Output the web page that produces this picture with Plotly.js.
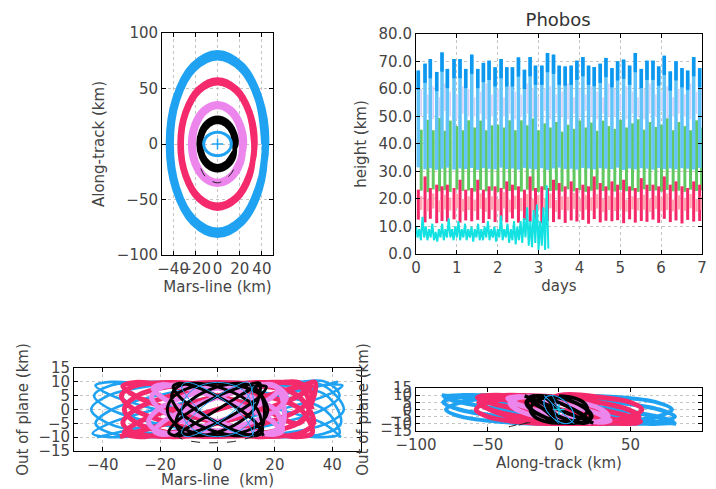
<!DOCTYPE html>
<html>
<head>
<meta charset="utf-8">
<script src="https://cdn.plot.ly/plotly-3.0.1.min.js"></script>
<style>html,body{margin:0;padding:0;background:#fff;}#chart{width:716px;height:489px;}</style>
</head>
<body>
<div id="chart"></div>
<script>
// ---------- Relative orbits around Phobos (km): Mars-line x, Along-track y, Out-of-plane z ----------
const blueX = [42,36.4,21,0,-21,-36.4,-42,-36.4,-21,0,21,36.4, 43.5,37.7,21.8,0,-21.8,-37.7,-43.5,-37.7,-21.8,0,21.8,37.7, 42.5,36.8,21.3,0,-21.3,-36.8,-42.5,-36.8,-21.3,0,21.3,36.8, 44,38.1,22,0,-22,-38.1,-44,-38.1,-22,0,22,38.1, 43,37.2,21.5,0,-21.5,-37.2,-43,-37.2,-21.5,0,21.5,37.2, 42.5,36.8,21.3,0,-21.3,-36.8,-42.5,-36.8,-21.3,0,21.3,36.8, 43];
const blueY = [0,39.5,68.4,79,68.4,39.5,0,-39.5,-68.4,-79,-68.4,-39.5, 0,40.5,70.1,81,70.1,40.5,0,-40.5,-70.1,-81,-70.1,-40.5, 0,39,67.5,78,67.5,39,0,-39,-67.5,-78,-67.5,-39, 0,41,71,82,71,41,0,-41,-71,-82,-71,-41, 0,40,69.3,80,69.3,40,0,-40,-69.3,-80,-69.3,-40, 0,40.3,69.7,80.5,69.7,40.3,0,-40.3,-69.7,-80.5,-69.7,-40.3, 0];
const blueZ = [10,8.7,5,0,-5,-8.7,-10,-8.7,-5,0,5,8.7, 8.7,5,0,-5,-8.7,-10,-8.7,-5,0,5,8.7,10, 5,0,-5,-8.7,-10,-8.7,-5,0,5,8.7,10,8.7, 0,-5,-8.7,-10,-8.7,-5,0,5,8.7,10,8.7,5, -5,-8.7,-10,-8.7,-5,0,5,8.7,10,8.7,5,0, -8.7,-10,-8.7,-5,0,5,8.7,10,8.7,5,0,-5, -10];

const pinkX = [32.5,28.1,16.3,0,-16.3,-28.1,-32.5,-28.1,-16.3,0,16.3,28.1, 33.5,29.0,16.8,0,-16.8,-29.0,-33.5,-29.0,-16.8,0,16.8,29.0, 33,28.6,16.5,0,-16.5,-28.6,-33,-28.6,-16.5,0,16.5,28.6, 34,29.4,17,0,-17,-29.4,-34,-29.4,-17,0,17,29.4, 32.5,28.1,16.3,0,-16.3,-28.1,-32.5,-28.1,-16.3,0,16.3,28.1, 33,28.6,16.5,0,-16.5,-28.6,-33,-28.6,-16.5,0,16.5,28.6, 33];
const pinkY = [0,27.5,47.6,55,47.6,27.5,0,-27.5,-47.6,-55,-47.6,-27.5, 0,28.5,49.4,57,49.4,28.5,0,-28.5,-49.4,-57,-49.4,-28.5, 0,28,48.5,56,48.5,28,0,-28,-48.5,-56,-48.5,-28, 0,29,50.2,58,50.2,29,0,-29,-50.2,-58,-50.2,-29, 0,27.8,48.1,55.5,48.1,27.8,0,-27.8,-48.1,-55.5,-48.1,-27.8, 0,28.3,48.9,56.5,48.9,28.3,0,-28.3,-48.9,-56.5,-48.9,-28.3, 0];
const pinkZ = [0,-4.9,-8.5,-9.8,-8.5,-4.9,0,4.9,8.5,9.8,8.5,4.9, -4.9,-8.5,-9.8,-8.5,-4.9,0,4.9,8.5,9.8,8.5,4.9,0, -8.5,-9.8,-8.5,-4.9,0,4.9,8.5,9.8,8.5,4.9,0,-4.9, 9.8,8.5,4.9,0,-4.9,-8.5,-9.8,-8.5,-4.9,0,4.9,8.5, 8.5,4.9,0,-4.9,-8.5,-9.8,-8.5,-4.9,0,4.9,8.5,9.8, 4.9,0,-4.9,-8.5,-9.8,-8.5,-4.9,0,4.9,8.5,9.8,8.5, 0];

const violetX = [22,19.1,11,0,-11,-19.1,-22,-19.1,-11,0,11,19.1, 24,20.8,12,0,-12,-20.8,-24,-20.8,-12,0,12,20.8, 23,19.9,11.5,0,-11.5,-19.9,-23,-19.9,-11.5,0,11.5,19.9, 22.5,19.5,11.3,0,-11.3,-19.5,-22.5,-19.5,-11.3,0,11.3,19.5, 22];
const violetY = [0,17,29.4,34,29.4,17,0,-17,-29.4,-34,-29.4,-17, 0,18,31.2,36,31.2,18,0,-18,-31.2,-36,-31.2,-18, 0,17.5,30.3,35,30.3,17.5,0,-17.5,-30.3,-35,-30.3,-17.5, 0,17.3,29.9,34.5,29.9,17.3,0,-17.3,-29.9,-34.5,-29.9,-17.3, 0];
const violetZ = [7.8,4.5,0,-4.5,-7.8,-9,-7.8,-4.5,0,4.5,7.8,9, 4.5,0,-4.5,-7.8,-9,-7.8,-4.5,0,4.5,7.8,9,7.8, -4.5,-7.8,-9,-7.8,-4.5,0,4.5,7.8,9,7.8,4.5,0, -7.8,-9,-7.8,-4.5,0,4.5,7.8,9,7.8,4.5,0,-4.5, -7.8];

const blackX = [15,13,7.5,0,-7.5,-13,-15,-13,-7.5,0,7.5,13, 17,14.7,8.5,0,-8.5,-14.7,-17,-14.7,-8.5,0,8.5,14.7, 14.5,12.6,7.3,0,-7.3,-12.6,-14.5,-12.6,-7.3,0,7.3,12.6, 17.5,15.2,8.8,0,-8.8,-15.2,-17.5,-15.2,-8.8,0,8.8,15.2, 16,13.9,8,0,-8,-13.9,-16,-13.9,-8,0,8,13.9, 15.5,13.4,7.8,0,-7.8,-13.4,-15.5,-13.4,-7.8,0,7.8,13.4, 16];
const blackY = [0,10,17.3,20,17.3,10,0,-10,-17.3,-20,-17.3,-10, 0,11.5,19.9,23,19.9,11.5,0,-11.5,-19.9,-23,-19.9,-11.5, 0,9.8,16.9,19.5,16.9,9.8,0,-9.8,-16.9,-19.5,-16.9,-9.8, 0,12,20.8,24,20.8,12,0,-12,-20.8,-24,-20.8,-12, 0,10.5,18.2,21,18.2,10.5,0,-10.5,-18.2,-21,-18.2,-10.5, 0,11,19.1,22,19.1,11,0,-11,-19.1,-22,-19.1,-11, 0];
const blackZ = [9.5,8.2,4.8,0,-4.8,-8.2,-9.5,-8.2,-4.8,0,4.8,8.2, 8.2,4.8,0,-4.8,-8.2,-9.5,-8.2,-4.8,0,4.8,8.2,9.5, 4.8,0,-4.8,-8.2,-9.5,-8.2,-4.8,0,4.8,8.2,9.5,8.2, 0,-4.8,-8.2,-9.5,-8.2,-4.8,0,4.8,8.2,9.5,8.2,4.8, -4.8,-8.2,-9.5,-8.2,-4.8,0,4.8,8.2,9.5,8.2,4.8,0, -8.2,-9.5,-8.2,-4.8,0,4.8,8.2,9.5,8.2,4.8,0,-4.8, -9.5];

const tailX = [-15,-12,-6,0,5.5,12,16];
const tailY = [-22,-28,-33,-35,-33,-27,-20];
const tailZ = [-9.2,-10.8,-11.9,-12,-11.6,-10,-9.2];

const smallX = [12.5,10.8,6.3,0,-6.3,-10.8,-12.5,-10.8,-6.3,0,6.3,10.8, 12.5,10.8,6.3,0,-6.3,-10.8,-12.5,-10.8,-6.3,0,6.3,10.8, 12.5,10.8,6.3,0,-6.3,-10.8,-12.5,-10.8,-6.3,0,6.3,10.8, 12.5];
const smallY = [0,5.3,9.1,10.5,9.1,5.3,0,-5.3,-9.1,-10.5,-9.1,-5.3, 0,5.3,9.1,10.5,9.1,5.3,0,-5.3,-9.1,-10.5,-9.1,-5.3, 0,5.3,9.1,10.5,9.1,5.3,0,-5.3,-9.1,-10.5,-9.1,-5.3, 0];
const smallZ = [8.5,4.9,0,-4.9,-8.5,-9.8,-8.5,-4.9,0,4.9,8.5,9.8, 0,-4.9,-8.5,-9.8,-8.5,-4.9,0,4.9,8.5,9.8,8.5,4.9, -8.5,-9.8,-8.5,-4.9,0,4.9,8.5,9.8,8.5,4.9,0,-4.9, -9.8];

const centerPt = [0];

// ---------- Height above Phobos (km) vs days ----------
const tA = [0.057,0.221,0.351,0.507,0.637,0.768,0.931,1.078,1.217,1.364,1.511,1.650,1.789,1.936,2.083,2.222,2.361,2.508,2.655,2.794,2.925,3.080,3.219,3.366,3.505,3.652,3.799,3.938,4.085,4.224,4.363,4.510,4.649,4.796,4.935,5.082,5.229,5.368,5.515,5.654,5.801,5.940,6.078,6.225,6.364,6.511,6.650,6.797,6.944];
const tB = [0.127,0.291,0.421,0.577,0.707,0.838,1.001,1.148,1.287,1.434,1.581,1.720,1.859,2.006,2.153,2.292,2.431,2.578,2.725,2.864,2.995,3.150,3.289,3.436,3.575,3.722,3.869,4.008,4.155,4.294,4.433,4.580,4.719,4.866,5.005,5.152,5.299,5.438,5.585,5.724,5.871,6.010,6.148,6.295,6.434,6.581,6.720,6.867,6.990];

const bluePeak = [66.7,69.2,70.9,66.2,73.3,67.3,70.9,70.9,67.3,72.5, 67.3,69.5,70.3,67.9,70.9,67.9,67.9,71.5,67.0,71.6, 68.5,68.5,73.1,72.5,68.5,68.2,68.5,70.3,71.6,68.5, 68.0,69.2,71.3,67.6,70.1,70.7,68.5,73.1,67.3,70.3, 70.3,68.2,72.1,66.4,70.1,67.6,66.7,71.6,67.6];
const blueLow = [31.5,30.8,31.2,30.6,31.0,31.4,30.7,31.1,30.9,31.3, 30.6,31.2,31.0,30.8,31.4,30.9,31.1,30.7,31.3,31.0, 30.8,31.2,30.6,31.1,31.4,30.9,31.0,30.7,31.3,31.1, 30.8,31.2,31.0,30.9,31.4,30.6,31.1,30.8,31.2,31.0, 30.7,31.3,30.9,31.1,30.8,31.2,31.0,30.7,31.3];

const lavHigh = [60,58,61,57,62,59,58,61,60,57, 59,62,58,60,57,61,59,58,62,60, 57,60,61,58,59,62,57,60,58,61, 59,57,62,60,58,61,59,57,60,62, 58,59,61,57,60,58,62,59,60];
const lavLow = [50,51,49,50,52,50,49,51,50,50, 51,49,50,52,50,51,49,50,51,50, 50,52,49,51,50,49,51,50,52,50, 49,51,50,50,52,49,51,50,49,51, 50,52,49,50,51,50,49,51,50];

const greenPeak = [45.2,48.8,45.0,49.5,44.8,48.5,46.5,45.0,48.6,46.0, 48.5,45.0,46.8,47.0,46.0,48.6,45.0,48.6,46.8,49.3, 45.0,47.5,46.0,48.0,44.5,47.0,45.5,48.5,46.0,47.8, 44.8,48.5,46.5,45.5,48.8,46.0,47.5,49.0,45.2,48.0, 46.2,47.0,49.3,45.0,48.0,46.5,45.0,48.6,46.0];
const greenLow = [23.0,22.5,23.5,22.8,23.2,22.6,23.4,22.9,23.1,22.7, 23.3,22.8,23.0,22.5,23.6,22.9,23.2,22.7,23.4,23.0, 22.6,23.3,22.9,23.1,22.7,23.5,22.8,23.2,22.6,23.0, 23.4,22.9,23.1,22.7,23.3,22.8,23.0,22.6,23.5,22.9, 23.1,22.7,23.3,22.8,23.0,22.6,23.4,22.9,23.2];

const pinkPeak = [23.4,28.2,24.0,25.2,24.6,25.2,24.0,27.0,23.4,24.0, 27.0,23.4,24.6,24.6,24.0,26.4,25.2,24.6,23.4,28.2, 24.0,24.6,24.0,27.0,25.8,24.6,26.4,24.0,25.2,24.6, 28.2,25.8,24.6,26.4,25.2,27.0,24.6,24.0,27.6,25.2, 25.2,24.6,28.2,25.2,26.4,24.6,24.0,26.4,25.2];
const pinkLow = [12.5,11.5,12.8,11.2,12.0,11.8,12.6,11.4,12.2,11.9, 12.4,11.3,12.7,11.6,12.1,11.5,12.9,11.4,12.3,11.7, 12.5,11.1,12.0,11.6,12.6,11.3,12.2,11.8,12.4,11.0, 12.7,11.5,12.1,11.9,12.3,11.2,12.6,11.4,12.0,11.7, 12.5,11.3,12.8,11.6,12.2,11.1,12.4,11.8,12.0];

const salmonHigh = [21,20,22,19.5,21.5,20.5,22,20,21,19.8, 22,20.5,21,20,22.5,19.8,21.2,20.4,21.8,20, 21.5,20.2,22,19.6,21,20.8,22.2,20,21.4,20.6, 21.8,20,21.2,20.6,22.4,19.8,21,20.4,21.6,20.2, 21.2,20.6,22,19.8,21.4,20.4,21.8,20,21];
const salmonLow = [16,15.5,16.5,15.2,16.2,15.8,16.6,15.4,16,15.6, 16.4,15.3,16.1,15.7,16.5,15.2,16.3,15.6,16,15.5, 16.2,15.4,16.6,15.3,16,15.8,16.4,15.5,16.1,15.7, 16.5,15.2,16,15.6,16.3,15.4,16.2,15.8,16.1,15.3, 16.4,15.6,16,15.5,16.2,15.7,16.6,15.4,16];

const cyanT = [0.00,0.04,0.08,0.12,0.16,0.20,0.24,0.28,0.32,0.36,0.40,0.44,0.48,0.52,0.56,0.60,0.64,0.68,0.72,0.76,0.80,0.84,0.88,0.92,0.96,1.00,1.04,1.08,1.12,1.16,1.20,1.24,1.28,1.32,1.36,1.40,1.44,1.48,1.52,1.56,1.60,1.64,1.68,1.72,1.76,1.80,1.84,1.88,1.92,1.96,2.00,2.04,2.08,2.12,2.16,2.20,2.24,2.28,2.32,2.36,2.40,2.44,2.48,2.52,2.56,2.60,2.64,2.68,2.72,2.76,2.80,2.84,2.88,2.92,2.96,3.00,3.04,3.08,3.12,3.16,3.20,3.24];
const cyanH = [10,6,9,5,13.5,6,10,5,9,6,11,5,8,4.5,9,6,11,5,9,6,13,6,9,5,10,6,12,5,9,6,11,5,9,6,10,4.5,9,6,11,5,9,5,10,6,12,5,9,6,10,4.5,9,6,14,5,9,6,11,4,9,5,12,3.5,10,5,12,4,13,6,17,3,12,2.5,16,4,18,1.5,12,3,17,1.5,25,2];

const daysTicks = [0,1,2,3,4,5,6,7];
const heightTicks = [0,10,20,30,40,50,60,70,80];

// ---------- helpers ----------
const FONT = 'DejaVu Sans, sans-serif';
const TXT = '#444';
function pillars(t, lo, hi){
  const x=[], y=[];
  t.forEach((v,i)=>{ x.push(v,v,null); y.push(lo[i],hi[i],null); });
  return {x,y};
}
function caps(t, hi, len){
  const x=[], y=[];
  t.forEach((v,i)=>{ x.push(v,v,null); y.push(hi[i]-len,hi[i],null); });
  return {x,y};
}
function orbit(xs, ys, color, width, xa, ya, extra){
  return Object.assign({type:'scatter', mode:'lines', x:xs, y:ys, xaxis:xa, yaxis:ya,
    line:{color:color, width:width, shape:'spline', smoothing:1}, hoverinfo:'skip'}, extra||{});
}
function pil(p, color, width){
  return {type:'scatter', mode:'lines', x:p.x, y:p.y, xaxis:'x2', yaxis:'y2',
    line:{color:color, width:width}, connectgaps:false, hoverinfo:'skip'};
}

const C_BLUE='#1fa2f2', C_PINK='#f52a6c', C_VIOLET='#ec86ec', C_BLACK='#000000';
const tailLine = {color:'#222', width:1, dash:'dash', shape:'spline', smoothing:1};

const traces = [];
// panel 1: Mars-line vs Along-track
traces.push(orbit(blueX, blueY, C_BLUE, 6, 'x', 'y'));
traces.push(orbit(pinkX, pinkY, C_PINK, 5, 'x', 'y'));
traces.push(orbit(violetX, violetY, C_VIOLET, 6, 'x', 'y'));
traces.push(orbit(blackX, blackY, C_BLACK, 3.5, 'x', 'y'));
traces.push(orbit(tailX, tailY, '#222', 1, 'x', 'y', {line:tailLine}));
traces.push(orbit(smallX, smallY, C_BLUE, 3, 'x', 'y'));
traces.push({type:'scatter', mode:'markers', x:centerPt, y:centerPt, xaxis:'x', yaxis:'y',
  marker:{symbol:'cross-thin', size:8, line:{color:C_BLUE, width:1.5}}, hoverinfo:'skip'});

// panel 2: height vs days
traces.push(pil(pillars(tB, lavLow, lavHigh), '#d8d0f6', 1.6));
traces.push(pil(pillars(tB, greenLow, greenPeak), '#62c962', 3));
traces.push(pil(pillars(tA, blueLow, bluePeak), '#62c4f8', 3.5));
traces.push(pil(caps(tA, bluePeak, 7), '#0c98ef', 3.5));
traces.push(pil(pillars(tA, pinkLow, pinkPeak), '#f5286a', 3));
traces.push(pil(pillars(tB, salmonLow, salmonHigh), '#ffa8b0', 2.5));
traces.push({type:'scatter', mode:'lines', x:cyanT, y:cyanH, xaxis:'x2', yaxis:'y2',
  line:{color:'#14e2e2', width:2}, hoverinfo:'skip'});

// panel 3: Mars-line vs Out of plane
traces.push(orbit(blueX, blueZ, C_BLUE, 2.6, 'x3', 'y3'));
traces.push(orbit(pinkX, pinkZ, C_PINK, 5, 'x3', 'y3'));
traces.push(orbit(violetX, violetZ, C_VIOLET, 5, 'x3', 'y3'));
traces.push(orbit(blackX, blackZ, C_BLACK, 3, 'x3', 'y3'));
traces.push(orbit(tailX, tailZ, '#222', 1, 'x3', 'y3', {line:tailLine}));
traces.push(orbit(smallX, smallZ, C_BLUE, 1, 'x3', 'y3'));

// panel 4: Along-track vs Out of plane
traces.push(orbit(blueY, blueZ, C_BLUE, 4, 'x4', 'y4'));
traces.push(orbit(pinkY, pinkZ, C_PINK, 5, 'x4', 'y4'));
traces.push(orbit(violetY, violetZ, C_VIOLET, 4.5, 'x4', 'y4'));
traces.push(orbit(blackY, blackZ, C_BLACK, 3.5, 'x4', 'y4'));
traces.push(orbit(tailY, tailZ, '#222', 1, 'x4', 'y4', {line:tailLine}));
traces.push(orbit(smallY, smallZ, C_BLUE, 1, 'x4', 'y4'));
traces.push({type:'scatter', mode:'markers', x:centerPt, y:centerPt, xaxis:'x4', yaxis:'y4',
  marker:{symbol:'cross-thin', size:8, line:{color:'#14c8e8', width:1.5}}, hoverinfo:'skip'});

function ax(o){
  return Object.assign({
    showline:true, mirror:'ticks', linecolor:'#000', linewidth:1,
    ticks:'inside', ticklen:4, tickcolor:'#000', tickangle:0,
    showgrid:true, gridcolor:'#c4c4c4', griddash:'dot', gridwidth:1,
    zeroline:false, tickfont:{family:FONT, size:15, color:TXT},
    automargin:false, fixedrange:true
  }, o);
}
function ttl(text, standoff){ return {text:text, font:{family:FONT, size:15, color:TXT}, standoff:standoff}; }

const layout = {
  width:716, height:489, margin:{l:0,r:0,t:0,b:0},
  paper_bgcolor:'#fff', plot_bgcolor:'#fff', showlegend:false,
  title:{text:'Phobos', x:0.7795, xanchor:'center', y:0.959, yanchor:'middle', font:{family:FONT, size:18, color:'#333'}},
  xaxis: ax({domain:[0.2263,0.3813], range:[-50,50], tickmode:'array', tickvals:[-40,-20,0,20,40], anchor:'y', title:ttl('Mars-line (km)', 2)}),
  yaxis: ax({domain:[0.4785,0.9325], range:[-100,100], tickmode:'array', tickvals:[-100,-50,0,50,100], anchor:'x', title:ttl('Along-track (km)', 8)}),
  xaxis2: ax({domain:[0.581,0.9804], range:[0,7], tickmode:'array', tickvals:daysTicks, anchor:'y2', title:ttl('days', 2)}),
  yaxis2: ax({domain:[0.4806,0.9305], range:[0,80], tickmode:'array', tickvals:heightTicks, tickformat:'.1f', anchor:'x2', title:ttl('height (km)', 8)}),
  xaxis3: ax({domain:[0.1034,0.5042], range:[-50,50], tickmode:'array', tickvals:[-40,-20,0,20,40], anchor:'y3', title:ttl('Mars-line  (km)', 6)}),
  yaxis3: ax({domain:[0.0777,0.2474], range:[-15,15], tickmode:'array', tickvals:[-15,-10,-5,0,5,10,15], anchor:'x3', title:ttl('Out of plane (km)', 6)}),
  xaxis4: ax({domain:[0.581,0.9804], range:[-100,100], tickmode:'array', tickvals:[-100,-50,0,50,100], anchor:'y4', title:ttl('Along-track (km)', 0)}),
  yaxis4: ax({domain:[0.1186,0.2065], range:[-15,15], tickmode:'array', tickvals:[-15,-10,-5,0,5,10,15], anchor:'x4', title:ttl('Out of plane (km)', 8)})
};

Plotly.newPlot('chart', traces, layout, {staticPlot:true, displayModeBar:false});
</script>
</body>
</html>
